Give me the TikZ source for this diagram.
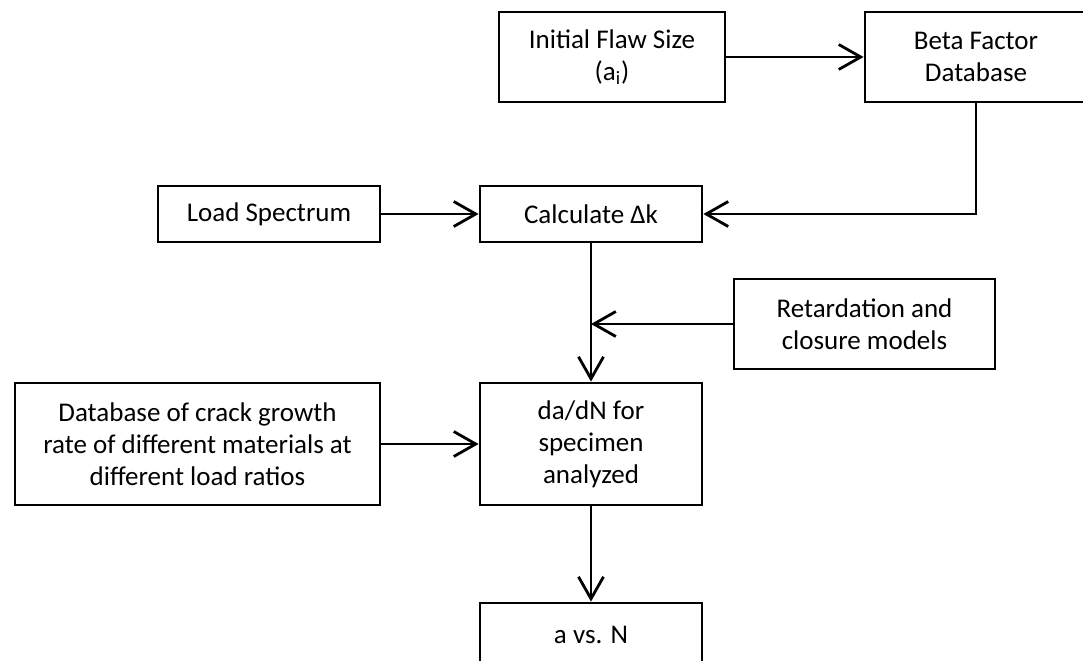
\documentclass[tikz,border=0pt]{standalone}
\usepackage{fontspec}
\setmainfont{Carlito}
\usetikzlibrary{arrows.meta}
\tikzset{
 box/.style={draw,line width=1.4pt,align=center,inner sep=0pt,font=\fontsize{13.5}{16}\selectfont},
 flow/.style={line width=1.4pt,-{Straight Barb[length=11pt,width=12.5pt]}}
}
\begin{document}
\begin{tikzpicture}[x=0.5pt,y=-0.5pt]
 \useasboundingbox (0,0) rectangle (1083,660);
 \node[box,minimum width=113pt,minimum height=45pt] (init) at (612,57) {Initial Flaw Size\\(a\textsubscript{i})};
 \node[box,minimum width=111pt,minimum height=45pt] (beta) at (976,57) {Beta Factor\\Database};
 \node[box,minimum width=111pt,minimum height=28pt] (load) at (269,214) {Load Spectrum};
 \node[box,minimum width=111pt,minimum height=28pt] (calc) at (591,214) {Calculate Δk};
 \node[box,minimum width=130.5pt,minimum height=45pt] (retard) at (864.5,324) {Retardation and\\closure models};
 \node[box,minimum width=182.5pt,minimum height=61pt] (db) at (197.5,444) {Database of crack growth\\rate of different materials at\\different load ratios};
 \node[box,minimum width=111pt,minimum height=61pt] (dadn) at (591,444) {da/dN for\\specimen\\analyzed};
 \node[box,minimum width=111pt,minimum height=32pt] (avn) at (591,635) {a vs. N};
 \draw[flow] (init) -- (beta);
 \draw[flow] (beta.south) |- (calc.east);
 \draw[flow] (load) -- (calc);
 \draw[flow] (calc) -- (dadn);
 \draw[flow] (retard.west) -- (retard.west -| calc.south);
 \draw[flow] (db) -- (dadn);
 \draw[flow] (dadn) -- (avn);
\end{tikzpicture}
\end{document}
